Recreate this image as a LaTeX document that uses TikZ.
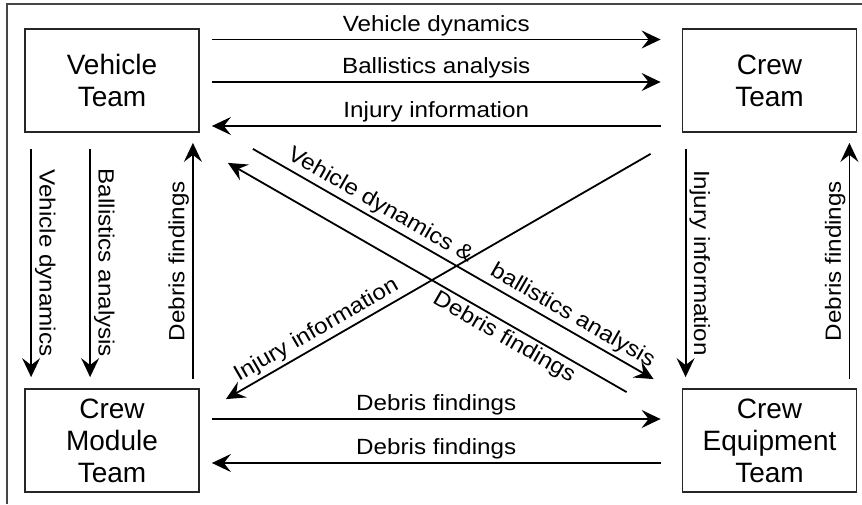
\documentclass[tikz,border=0pt]{standalone}
\usepackage{fontspec}
\setmainfont{Liberation Sans}
\newfontfamily\labelfont[FakeStretch=1.1]{Liberation Sans}
\usetikzlibrary{arrows.meta,positioning,calc}
\definecolor{framecol}{RGB}{70,70,70}
\tikzset{
  team box/.style={draw=black!85,line width=1.8pt,minimum width=174pt,minimum height=103pt,inner sep=0pt,align=center,font=\fontsize{28}{32}\selectfont},
  flowedge/.style={-{Stealth[length=19pt,width=18pt,inset=7pt]},line width=1.8pt},
  flowlabel/.style={sloped,above,inner sep=3pt,font=\labelfont\fontsize{22}{24}\selectfont},
  flowlabelb/.style={flowlabel,below}
}

\begin{document}
\begin{tikzpicture}[x=1pt,y=1pt]
\useasboundingbox (0,0) rectangle (862,504);
% ---- frame ----
\draw[framecol,line width=1.2pt] (7,0) -- (7,500) -- (862,500);
% ---- teams ----
\node[team box] (vehicle) at (112,423.5) {Vehicle\\Team};
\node[team box] (crew) at (769.5,423.5) {Crew\\Team};
\node[team box] (module) at (112,63.5) {Crew\\Module\\Team};
\node[team box] (equip) at (769.5,63.5) {Crew\\Equipment\\Team};
% ---- top row ----
\foreach \dy/\txt in {41/Vehicle dynamics,-1.5/Ballistics analysis}{
  \draw[flowedge] ([xshift=12pt,yshift=\dy pt]vehicle.east) -- ([xshift=-21pt,yshift=\dy pt]crew.west)
    node[flowlabel,midway] {\txt};}
\draw[flowedge] ([xshift=-21pt,yshift=-45.5pt]crew.west) -- ([xshift=12pt,yshift=-45.5pt]vehicle.east)
  node[flowlabel,midway] {Injury information};
% ---- bottom row ----
\draw[flowedge] ([xshift=12pt,yshift=21.5pt]module.east) -- ([xshift=-21pt,yshift=21.5pt]equip.west)
  node[flowlabel,midway] {Debris findings};
\draw[flowedge] ([xshift=-21pt,yshift=-22.5pt]equip.west) -- ([xshift=12pt,yshift=-22.5pt]module.east)
  node[flowlabel,midway] {Debris findings};
% ---- left column ----
\foreach \dx/\txt in {7/Vehicle dynamics,66/Ballistics analysis}{
  \draw[flowedge] ([xshift=\dx pt,yshift=-16pt]vehicle.south west) -- ([xshift=\dx pt,yshift=11pt]module.north west)
    node[flowlabel,midway] {\txt};}
\draw[flowedge] ([xshift=-7pt,yshift=9pt]module.north east) -- ([xshift=-7pt,yshift=-10pt]vehicle.south east)
  node[flowlabel,midway] {Debris findings};
% ---- right column ----
\draw[flowedge] ([xshift=4pt,yshift=-16pt]crew.south west) -- ([xshift=4pt,yshift=11pt]equip.north west)
  node[flowlabel,midway] {Injury information};
\draw[flowedge] ([xshift=-8pt,yshift=9pt]equip.north east) -- ([xshift=-8pt,yshift=-10pt]crew.south east)
  node[flowlabel,midway] {Debris findings};
% ---- diagonals ----
\draw[flowedge] ([shift={(53pt,-16pt)}]vehicle.south east) -- ([shift={(-28pt,9pt)}]equip.north west)
  node[flowlabel,pos=0.30] {Vehicle dynamics \&}
  node[flowlabel,pos=0.78] {ballistics analysis};
\draw[flowedge] ([shift={(-55pt,-4pt)}]equip.north west) -- ([shift={(28pt,-30pt)}]vehicle.south east)
  node[flowlabelb,pos=0.29] {Debris findings};
\draw[flowedge] ([shift={(-31pt,-21pt)}]crew.south west) -- ([shift={(26pt,-11pt)}]module.north east)
  node[flowlabel,pos=0.77] {Injury information};
\end{tikzpicture}
\end{document}
